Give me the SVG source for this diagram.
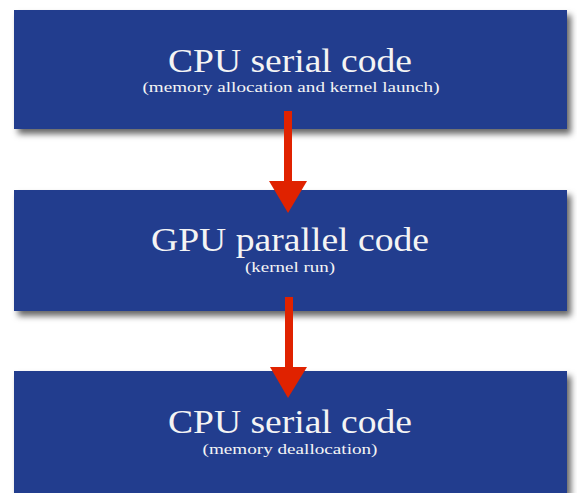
<svg xmlns="http://www.w3.org/2000/svg" width="577" height="493" viewBox="0 0 577 493">
<style>
.box{fill:#233d8e;filter:url(#sh)}
.t{fill:#f4f4f4;font-family:"Liberation Serif","Times New Roman",serif;text-anchor:middle}
.big{font-size:33px}
.small{font-size:15px}
.arr{fill:#e02200}
</style>
<defs>
<filter id="sh" x="-5%" y="-10%" width="115%" height="130%">
<feDropShadow dx="4" dy="5" stdDeviation="3" flood-color="#000" flood-opacity="0.6"/>
</filter>
</defs>
<rect width="577" height="493" fill="#fff"/>
<g id="node1">
<rect class="box" x="14" y="10" width="553" height="119"/>
<text class="t big" x="290" y="72" textLength="244" lengthAdjust="spacingAndGlyphs">CPU serial code</text>
<text class="t small" x="291" y="92" textLength="297" lengthAdjust="spacingAndGlyphs">(memory allocation and kernel launch)</text>
</g>
<g id="node2">
<rect class="box" x="14" y="190" width="553" height="121"/>
<text class="t big" x="290" y="251" textLength="278" lengthAdjust="spacingAndGlyphs">GPU parallel code</text>
<text class="t small" x="290" y="272" textLength="90" lengthAdjust="spacingAndGlyphs">(kernel run)</text>
</g>
<g id="node3">
<rect class="box" x="14" y="371" width="553" height="122"/>
<text class="t big" x="290" y="433" textLength="244" lengthAdjust="spacingAndGlyphs">CPU serial code</text>
<text class="t small" x="290" y="454" textLength="175" lengthAdjust="spacingAndGlyphs">(memory deallocation)</text>
</g>
<g id="connectors">
<rect class="arr" x="284" y="111" width="8" height="72"/>
<polygon class="arr" points="269,181 307,181 288,213"/>
<rect class="arr" x="285" y="297" width="8" height="72"/>
<polygon class="arr" points="270,367 307,367 288,398"/>
</g>
</svg>
